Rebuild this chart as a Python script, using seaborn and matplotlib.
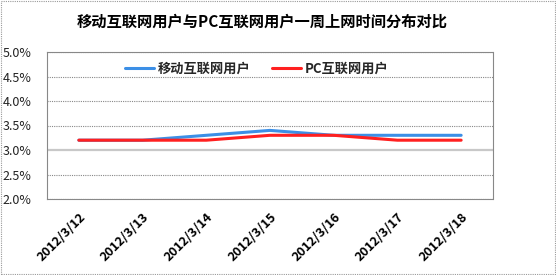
import matplotlib
matplotlib.use("Agg")
import matplotlib.pyplot as plt
import seaborn as sns
import pandas as pd
from matplotlib.patches import Rectangle
from matplotlib.lines import Line2D

sns.set_style("white")
plt.rcParams['font.family'] = ['Noto Sans CJK SC', 'DejaVu Sans']

dates = ["2012/3/12", "2012/3/13", "2012/3/14", "2012/3/15", "2012/3/16", "2012/3/17", "2012/3/18"]
mobile = [3.2, 3.2, 3.3, 3.4, 3.3, 3.3, 3.3]
pc = [3.2, 3.2, 3.2, 3.3, 3.3, 3.2, 3.2]
series_names = ["移动互联网用户", "PC互联网用户"]
yticks = [2.0, 2.5, 3.0, 3.5, 4.0, 4.5, 5.0]
title = "移动互联网用户与PC互联网用户一周上网时间分布对比"

df = pd.DataFrame({
    "date": dates * 2,
    "value": mobile + pc,
    "series": [series_names[0]] * len(dates) + [series_names[1]] * len(dates),
})
df["x"] = list(range(len(dates))) * 2

fig = plt.figure(figsize=(5.56, 2.75), dpi=100)
fig.patch.set_facecolor("white")
W, H = 556, 275
ax = fig.add_axes([47 / W, (H - 199) / H, 446 / W, 147 / H])

palette = {series_names[0]: "#3c8fe6", series_names[1]: "#ff2020"}
sns.lineplot(data=df, x="x", y="value", hue="series", palette=palette,
             linewidth=2.2, ax=ax, legend=False, zorder=3)

ax.set_xlim(-0.5, len(dates) - 0.5)
ax.set_ylim(2.0, 5.0)
ax.set_yticks(yticks)
ax.set_yticklabels([f"{v:.1f}%" for v in yticks], fontsize=9, color="#222222")
ax.set_xticks(range(len(dates)))
ax.set_xticklabels(dates, rotation=45, ha="right", rotation_mode="anchor",
                   fontsize=9.2, fontweight="bold", color="black")
ax.tick_params(axis="y", length=0, pad=11)
ax.tick_params(axis="x", length=0, pad=8)
ax.set_xlabel("")
ax.set_ylabel("")

for v in yticks:
    if v == 3.0:
        ax.axhline(v, color="#c8c8c8", lw=1.6, zorder=1)
    else:
        ax.axhline(v, color="#888888", lw=0.8, ls=(0, (1, 1)), zorder=1)
for s in ax.spines.values():
    s.set_visible(True)
    s.set_color("#888888")
    s.set_linewidth(0.8)
    s.set_linestyle((0, (1, 1)))

handles = [Line2D([], [], color=palette[n], lw=2.2) for n in series_names]
fig.legend(handles, series_names, loc="center", bbox_to_anchor=(257 / W, 1 - 69 / H),
           ncol=2, frameon=False, handlelength=2.2, handletextpad=0.3, columnspacing=1.6,
           prop={"family": ['Noto Sans CJK SC', 'DejaVu Sans'], "weight": "bold", "size": 9.5})

fig.text(262 / W, 1 - 22 / H, title, ha="center", va="center",
         fontsize=11, fontweight="bold", color="black")

fig.patches.append(Rectangle((0.001, 0.002), 0.997, 0.995, transform=fig.transFigure,
                             fill=False, edgecolor="#999999", lw=0.8, ls=(0, (1, 1))))

fig.savefig("out.png", dpi=100, facecolor="white")
